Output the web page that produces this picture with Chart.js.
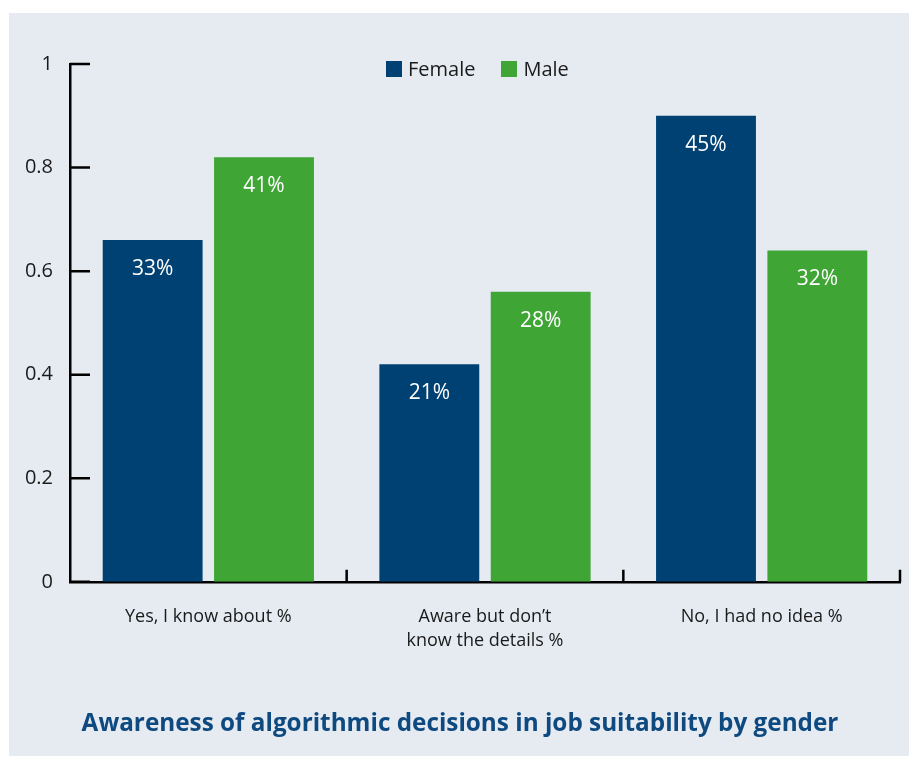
<!DOCTYPE html>
<html>
<head>
<meta charset="utf-8">
<script src="https://cdn.jsdelivr.net/npm/chart.js@4.4.1/dist/chart.umd.min.js"></script>
<style>
  html, body { margin: 0; padding: 0; background: #ffffff; }
  #wrap { position: relative; width: 909px; height: 758px; }
  #panel { position: absolute; left: 9px; top: 13px; right: 0; bottom: 2px; background: #e6ebf2; }
  #chart { position: absolute; left: 0; top: 0; }
  #legend { position: absolute; top: 55px; left: 386px; display: flex; align-items: center;
            font-family: "Open Sans", sans-serif; font-size: 20px; color: #1a1a1a; }
  #legend span.box { display: inline-block; width: 16px; height: 16px; margin-right: 6px; }
  #legend span.item { display: flex; align-items: center; margin-right: 26px; }
</style>
</head>
<body>
<div id="wrap">
  <div id="panel"></div>
  <canvas id="chart" width="909" height="758"></canvas>
  <div id="legend"></div>
</div>
<script>
// survey answers, one group per answer
const categories = [
  ['Yes, I know about %'],
  ['Aware but don\u2019t', 'know the details %'],
  ['No, I had no idea %']
];
const seriesNames = ['Female', 'Male'];
const femalePct = [33, 21, 45];
const malePct = [41, 28, 32];
const seriesColors = ['#004173', '#3fa535'];
const yTicks = [0, 0.2, 0.4, 0.6, 0.8, 1];
const yTickLabels = ['0', '0.2', '0.4', '0.6', '0.8', '1'];
const chartTitle = 'Awareness of algorithmic decisions in job suitability by gender';

// the axis runs 0..1 where 1 stands for 50%
const toAxis = p => p / 50;

// html legend
const legendEl = document.getElementById('legend');
seriesNames.forEach((name, i) => {
  const item = document.createElement('span');
  item.className = 'item';
  item.innerHTML = '<span class="box" style="background:' + seriesColors[i] + '"></span>' + name;
  legendEl.appendChild(item);
});

const pctBySeries = [femalePct, malePct];

// white % labels inside the top of each bar
const barLabels = {
  id: 'barLabels',
  afterDatasetsDraw(chart) {
    const { ctx } = chart;
    ctx.save();
    ctx.font = '21px "Open Sans", sans-serif';
    ctx.fillStyle = '#ffffff';
    ctx.textAlign = 'center';
    ctx.textBaseline = 'middle';
    chart.data.datasets.forEach((ds, di) => {
      chart.getDatasetMeta(di).data.forEach((bar, i) => {
        ctx.fillText(pctBySeries[di][i] + '%', bar.x, bar.y + 29);
      });
    });
    ctx.restore();
  }
};

// short tick marks pointing into the plot
const innerTicks = {
  id: 'innerTicks',
  afterDraw(chart) {
    const { ctx, chartArea } = chart;
    const y = chart.scales.y;
    const x = chart.scales.x;
    ctx.save();
    ctx.strokeStyle = '#000000';
    ctx.lineWidth = 2.5;
    ctx.beginPath();
    yTicks.forEach(v => {
      const py = y.getPixelForValue(v);
      ctx.moveTo(chartArea.left, py);
      ctx.lineTo(chartArea.left + 20, py);
    });
    for (let i = 0; i < categories.length; i++) {
      const px = x.getPixelForValue(i + 0.5);
      ctx.moveTo(px, chartArea.bottom);
      ctx.lineTo(px, chartArea.bottom - 12);
    }
    ctx.stroke();
    ctx.restore();
  }
};

new Chart(document.getElementById('chart'), {
  type: 'bar',
  data: {
    labels: categories,
    datasets: seriesNames.map((name, i) => ({
      label: name,
      data: pctBySeries[i].map(toAxis),
      backgroundColor: seriesColors[i],
      categoryPercentage: 0.805,
      barPercentage: 0.897
    }))
  },
  options: {
    responsive: false,
    animation: false,
    layout: { padding: { top: 64, right: 9, left: 20, bottom: 0 } },
    plugins: {
      legend: { display: false },
      tooltip: { enabled: false },
      title: {
        display: true,
        text: chartTitle,
        position: 'bottom',
        color: '#0e4a80',
        font: { family: '"Open Sans", sans-serif', size: 24.3, weight: 'bold' },
        padding: { top: 0, bottom: 19 }
      }
    },
    scales: {
      x: {
        grid: { display: false, drawTicks: false },
        border: { display: true, color: '#000000', width: 2.5 },
        ticks: {
          color: '#1a1a1a',
          font: { family: '"Open Sans", sans-serif', size: 18, lineHeight: 1.35 },
          padding: 23,
          maxRotation: 0
        },
        afterFit(scale) { scale.height = 128; }
      },
      y: {
        min: 0,
        max: 1,
        grid: { display: false, drawTicks: false },
        border: { display: true, color: '#000000', width: 2.5 },
        ticks: {
          color: '#1a1a1a',
          font: { family: '"Open Sans", sans-serif', size: 20 },
          padding: 17,
          callback: (v, i) => yTickLabels[i]
        },
        afterBuildTicks(scale) { scale.ticks = yTicks.map(v => ({ value: v })); },
        afterFit(scale) { scale.width = 50; }
      }
    }
  },
  plugins: [barLabels, innerTicks]
});
</script>
</body>
</html>
